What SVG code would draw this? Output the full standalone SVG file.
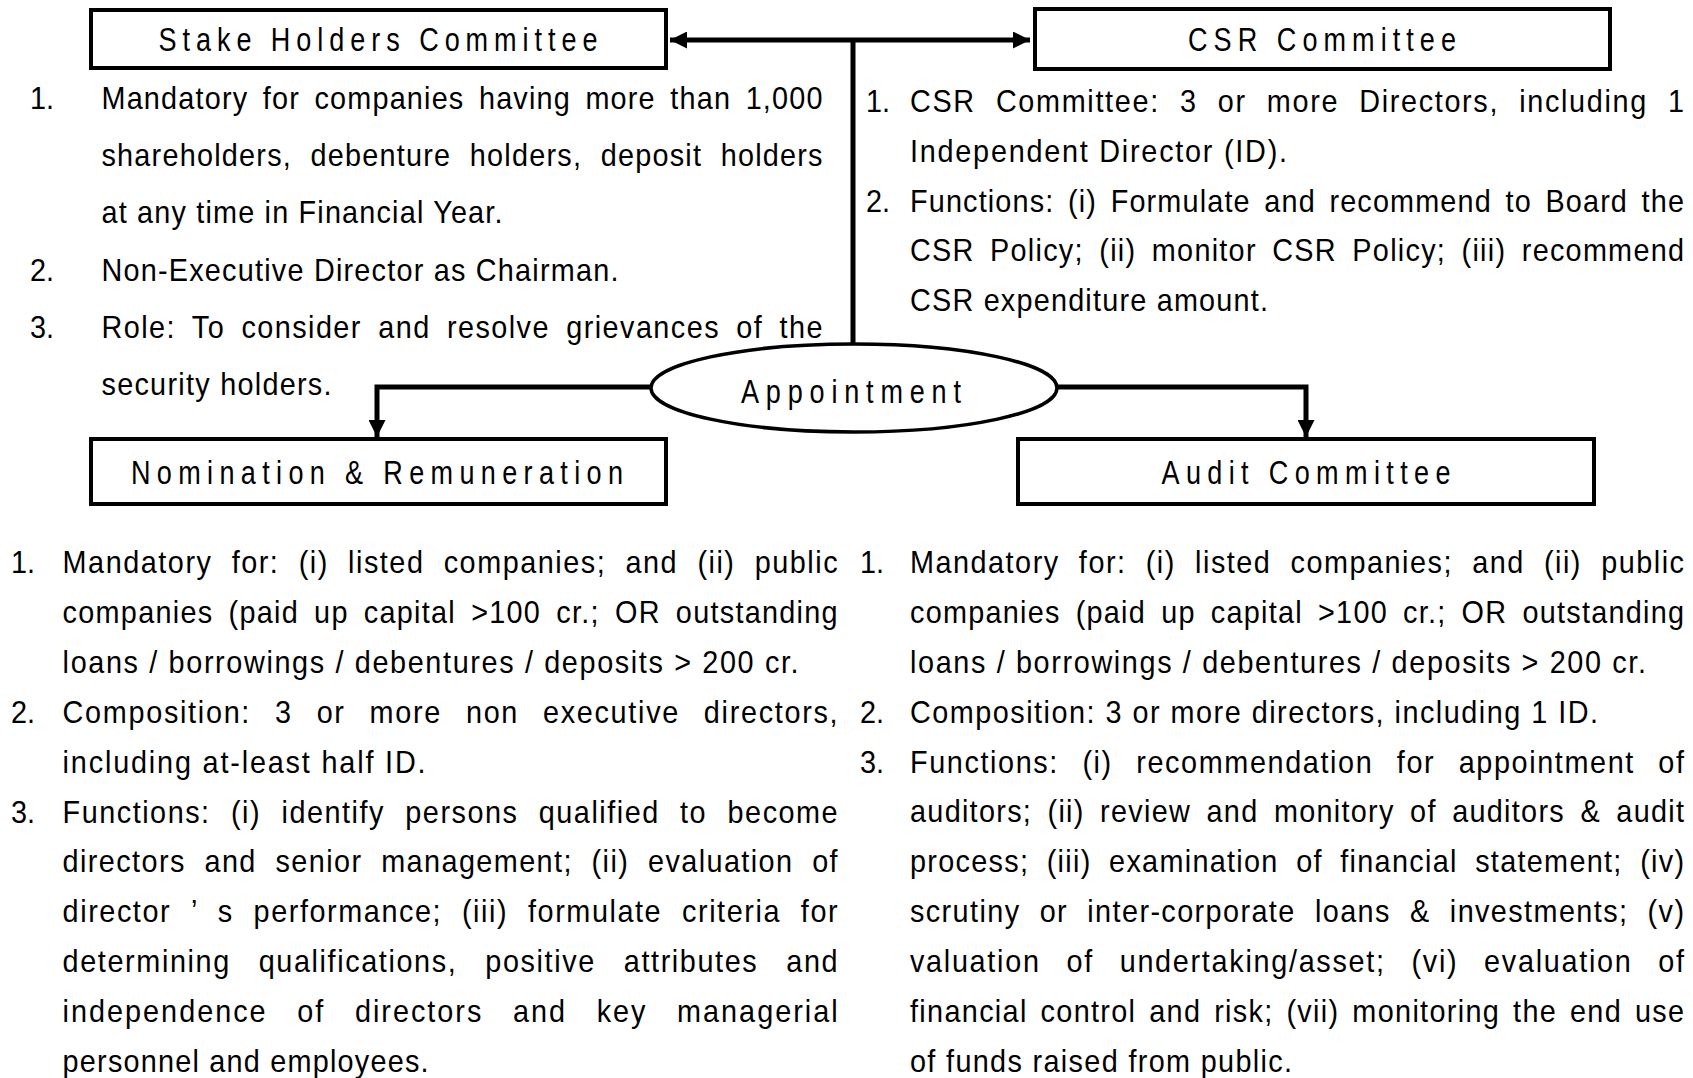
<svg xmlns="http://www.w3.org/2000/svg" width="1693" height="1078" viewBox="0 0 1693 1078">
<style>
  .bg{fill:#ffffff}
  .box{fill:#ffffff;stroke:#000;stroke-width:4}
  .ell{fill:#ffffff;stroke:#000;stroke-width:3.5}
  .con{fill:none;stroke:#000;stroke-width:5}
  text{font-family:"Liberation Sans",Arial,sans-serif;fill:#000}
  .h{font-size:33px;text-anchor:middle}
  .t{font-size:32px}
</style>
<defs>
  <marker id="ah" viewBox="0 0 10 10" refX="10" refY="5" markerWidth="3.6" markerHeight="3.4" orient="auto" markerUnits="strokeWidth">
    <path d="M0,0 L10,5 L0,10 z" fill="#000"/>
  </marker>
</defs>
<rect class="bg" x="0" y="0" width="1693" height="1078"/>

<g id="connectors">
  <path class="con" d="M853,40 L670,40" marker-end="url(#ah)"/>
  <path class="con" d="M853,40 L1030,40" marker-end="url(#ah)"/>
  <path class="con" d="M853,38 L853,345"/>
  <path class="con" d="M652,387 L377,387 L377,437" marker-end="url(#ah)"/>
  <path class="con" d="M1056,387 L1306,387 L1306,437" marker-end="url(#ah)"/>
</g>

<g id="stakeholders">
  <rect class="box" x="91" y="10" width="575" height="58"/>
  <g transform="scale(0.82 1)">
    <text class="h" x="460.98" y="51" textLength="535.37" lengthAdjust="spacing">Stake Holders Committee</text>
  </g>
  <g transform="scale(0.9 1)">
    <text class="t" x="33.33" y="109">1.</text>
    <text class="t" x="112.78" y="109" textLength="801.11" lengthAdjust="spacing" word-spacing="5.9">Mandatory for companies having more than 1,000</text>
    <text class="t" x="112.78" y="166" textLength="801.11" lengthAdjust="spacing" word-spacing="10.3">shareholders, debenture holders, deposit holders</text>
    <text class="t" x="112.78" y="223.5" textLength="445.56" lengthAdjust="spacing">at any time in Financial Year.</text>
    <text class="t" x="33.33" y="281">2.</text>
    <text class="t" x="112.78" y="281" textLength="574.44" lengthAdjust="spacing">Non-Executive Director as Chairman.</text>
    <text class="t" x="33.33" y="338">3.</text>
    <text class="t" x="112.78" y="338" textLength="801.11" lengthAdjust="spacing" word-spacing="7.6">Role:  To consider and resolve grievances of the</text>
    <text class="t" x="112.78" y="395.5" textLength="255.56" lengthAdjust="spacing">security holders.</text>
  </g>
</g>

<g id="csr">
  <rect class="box" x="1035" y="9" width="575" height="60"/>
  <g transform="scale(0.82 1)">
    <text class="h" x="1612.2" y="51" textLength="326.83" lengthAdjust="spacing">CSR Committee</text>
  </g>
  <g transform="scale(0.9 1)">
    <text class="t" x="962.22" y="112">1.</text>
    <text class="t" x="1011.11" y="112" textLength="860" lengthAdjust="spacing" word-spacing="11.6">CSR Committee: 3 or more Directors, including 1</text>
    <text class="t" x="1011.11" y="162" textLength="418.89" lengthAdjust="spacing">Independent Director (ID).</text>
    <text class="t" x="962.22" y="212">2.</text>
    <text class="t" x="1011.11" y="212" textLength="860" lengthAdjust="spacing" word-spacing="4.9">Functions: (i) Formulate and recommend to Board the</text>
    <text class="t" x="1011.11" y="261" textLength="860" lengthAdjust="spacing" word-spacing="6.9">CSR Policy; (ii) monitor CSR Policy; (iii) recommend</text>
    <text class="t" x="1011.11" y="311" textLength="397.78" lengthAdjust="spacing">CSR expenditure amount.</text>
  </g>
</g>

<g id="appointment">
  <ellipse class="ell" cx="854" cy="388" rx="203" ry="44"/>
  <g transform="scale(0.82 1)">
    <text class="h" x="1037.8" y="403" textLength="268.29" lengthAdjust="spacing">Appointment</text>
  </g>
</g>

<g id="nomination">
  <rect class="box" x="91" y="439" width="575" height="65"/>
  <g transform="scale(0.82 1)">
    <text class="h" x="459.76" y="484" textLength="600" lengthAdjust="spacing">Nomination &amp; Remuneration</text>
  </g>
  <g transform="scale(0.9 1)">
    <text class="t" x="12.22" y="573">1.</text>
    <text class="t" x="69.56" y="573" textLength="861.11" lengthAdjust="spacing" word-spacing="10.8">Mandatory for: (i) listed companies; and (ii) public</text>
    <text class="t" x="69.56" y="623" textLength="861.11" lengthAdjust="spacing" word-spacing="6.5">companies (paid up capital &gt;100 cr.; OR outstanding</text>
    <text class="t" x="69.56" y="673" textLength="817.78" lengthAdjust="spacing">loans / borrowings / debentures / deposits &gt; 200 cr.</text>
    <text class="t" x="12.22" y="723">2.</text>
    <text class="t" x="69.56" y="723" textLength="861.11" lengthAdjust="spacing" word-spacing="15.8">Composition: 3 or more non executive directors,</text>
    <text class="t" x="69.56" y="773" textLength="403.33" lengthAdjust="spacing">including  at-least half ID.</text>
    <text class="t" x="12.22" y="823">3.</text>
    <text class="t" x="69.56" y="823" textLength="861.11" lengthAdjust="spacing" word-spacing="12.1">Functions: (i) identify persons qualified to become</text>
    <text class="t" x="69.56" y="872" textLength="861.11" lengthAdjust="spacing" word-spacing="10.3">directors and senior management; (ii) evaluation of</text>
    <text class="t" x="69.56" y="922" textLength="861.11" lengthAdjust="spacing" word-spacing="11.4">director ’ s performance; (iii) formulate criteria for</text>
    <text class="t" x="69.56" y="972" textLength="861.11" lengthAdjust="spacing" word-spacing="20.4">determining qualifications, positive attributes and</text>
    <text class="t" x="69.56" y="1022" textLength="861.11" lengthAdjust="spacing" word-spacing="21.8">independence of directors and key managerial</text>
    <text class="t" x="69.56" y="1072" textLength="406.67" lengthAdjust="spacing">personnel and employees.</text>
  </g>
</g>

<g id="audit">
  <rect class="box" x="1018" y="439" width="576" height="65"/>
  <g transform="scale(0.82 1)">
    <text class="h" x="1592.68" y="484" textLength="352.44" lengthAdjust="spacing">Audit Committee</text>
  </g>
  <g transform="scale(0.9 1)">
    <text class="t" x="955.56" y="573">1.</text>
    <text class="t" x="1011.11" y="573" textLength="860" lengthAdjust="spacing" word-spacing="10.8">Mandatory for: (i) listed companies; and (ii) public</text>
    <text class="t" x="1011.11" y="623" textLength="860" lengthAdjust="spacing" word-spacing="6.5">companies (paid up capital &gt;100 cr.; OR outstanding</text>
    <text class="t" x="1011.11" y="673" textLength="817.78" lengthAdjust="spacing">loans / borrowings / debentures / deposits &gt; 200 cr.</text>
    <text class="t" x="955.56" y="723">2.</text>
    <text class="t" x="1011.11" y="723" textLength="764.44" lengthAdjust="spacing">Composition: 3 or more directors, including 1 ID.</text>
    <text class="t" x="955.56" y="773">3.</text>
    <text class="t" x="1011.11" y="773" textLength="860" lengthAdjust="spacing" word-spacing="15.4">Functions: (i) recommendation for appointment of</text>
    <text class="t" x="1011.11" y="822" textLength="860" lengthAdjust="spacing" word-spacing="6.8">auditors; (ii) review and monitory of auditors &amp; audit</text>
    <text class="t" x="1011.11" y="872" textLength="860" lengthAdjust="spacing" word-spacing="9.1">process; (iii) examination of financial statement; (iv)</text>
    <text class="t" x="1011.11" y="922" textLength="860" lengthAdjust="spacing" word-spacing="10.9">scrutiny or inter-corporate loans &amp; investments; (v)</text>
    <text class="t" x="1011.11" y="972" textLength="860" lengthAdjust="spacing" word-spacing="17.9">valuation of undertaking/asset; (vi) evaluation of</text>
    <text class="t" x="1011.11" y="1022" textLength="860" lengthAdjust="spacing" word-spacing="3.9">financial control and risk; (vii) monitoring the end use</text>
    <text class="t" x="1011.11" y="1072" textLength="424.44" lengthAdjust="spacing">of funds raised from public.</text>
  </g>
</g>
</svg>
